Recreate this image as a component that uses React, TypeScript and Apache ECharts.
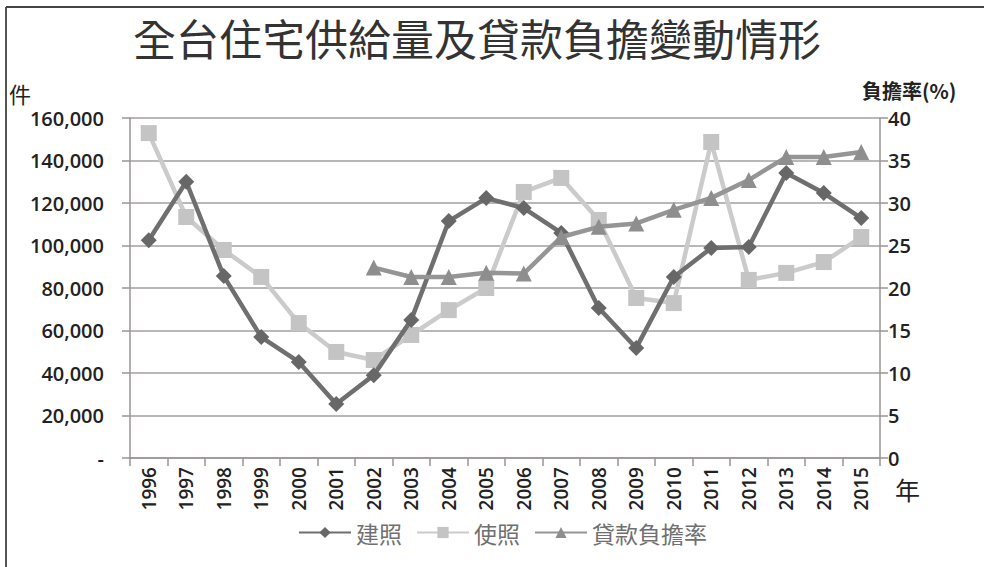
import React, { useEffect, useRef } from "react";
import * as echarts from "echarts";

const years = ["1996","1997","1998","1999","2000","2001","2002","2003","2004","2005","2006","2007","2008","2009","2010","2011","2012","2013","2014","2015"];
const buildPermits = [102500,130000,85600,56900,45200,25400,39000,65000,111500,122300,117600,105900,70600,51800,85200,98800,99300,134100,124700,112900];
const usePermits = [152900,113400,97900,85200,63500,49900,46100,57900,69600,80000,125200,131800,112000,75300,72900,148700,83800,87100,92200,104000];
const loanBurden: (number | null)[] = [null,null,null,null,null,null,22.4,21.3,21.3,21.8,21.7,26.0,27.2,27.6,29.2,30.6,32.7,35.4,35.4,36.0];
const leftTicks = [0,20000,40000,60000,80000,100000,120000,140000,160000];
const rightTicks = [0,5,10,15,20,25,30,35,40];

const FONT = "'Open Sans', 'Noto Sans CJK TC', sans-serif";
const CJK = "'Noto Sans CJK TC', 'Noto Sans', sans-serif";

export default function App() {
  const ref = useRef<HTMLDivElement>(null);
  useEffect(() => {
    document.body.style.margin = "0";
    const chart = echarts.init(ref.current!, null, { renderer: "svg" });
    chart.setOption({
      animation: false,
      backgroundColor: "#ffffff",
      title: {
        text: "全台住宅供給量及貸款負擔變動情形",
        left: 472,
        textAlign: "center",
        top: 10,
        textStyle: { fontFamily: CJK, fontSize: 43, fontWeight: "normal", color: "#333" },
      },
      grid: { left: 130, right: 104, top: 118, bottom: 109, containLabel: false },
      legend: {
        left: 293,
        top: 516,
        itemWidth: 52,
        itemHeight: 14,
        itemGap: 14,
        textStyle: { fontFamily: CJK, fontSize: 23, color: "#707070" },
        data: ["建照", "使照", "貸款負擔率"],
      },
      xAxis: {
        type: "category",
        data: years,
        boundaryGap: true,
        axisLine: { lineStyle: { color: "#9a9595", width: 1.5 } },
        axisTick: { show: true, length: 8, lineStyle: { color: "#9a9595", width: 1.5 } },
        axisLabel: { rotate: 90, interval: 0, fontFamily: FONT, fontSize: 19, fontWeight: 600, color: "#222", margin: 9 },
      },
      yAxis: [
        {
          type: "value",
          min: leftTicks[0],
          max: leftTicks[leftTicks.length - 1],
          interval: 20000,
          axisLine: { show: true, lineStyle: { color: "#9a9595", width: 1.5 } },
          axisTick: { show: true, length: 8, lineStyle: { color: "#9a9595", width: 1.5 } },
          splitLine: { lineStyle: { color: "#a59f9f", width: 1.5 } },
          axisLabel: {
            fontFamily: FONT, fontSize: 20, fontWeight: 600, color: "#222", margin: 26,
            formatter: (v: number) => (v === 0 ? "-" : v.toLocaleString("en-US")),
          },
        },
        {
          type: "value",
          min: rightTicks[0],
          max: rightTicks[rightTicks.length - 1],
          interval: 5,
          position: "right",
          axisLine: { show: true, lineStyle: { color: "#9a9595", width: 1.5 } },
          axisTick: { show: true, length: 8, lineStyle: { color: "#9a9595", width: 1.5 } },
          splitLine: { show: false },
          axisLabel: { fontFamily: FONT, fontSize: 20, fontWeight: 600, color: "#222", margin: 8 },
        },
      ],
      series: [
        {
          name: "建照",
          type: "line",
          yAxisIndex: 0,
          data: buildPermits,
          symbol: "diamond",
          symbolSize: 16,
          lineStyle: { color: "#6f6f6f", width: 4.5 },
          itemStyle: { color: "#676767" },
          z: 4,
        },
        {
          name: "使照",
          type: "line",
          yAxisIndex: 0,
          data: usePermits,
          symbol: "rect",
          symbolSize: 16,
          lineStyle: { color: "#cbcbcb", width: 4.5 },
          itemStyle: { color: "#c4c4c4" },
          z: 3,
        },
        {
          name: "貸款負擔率",
          type: "line",
          yAxisIndex: 1,
          data: loanBurden,
          symbol: "triangle",
          symbolSize: 16,
          lineStyle: { color: "#959595", width: 4.5 },
          itemStyle: { color: "#8e8e8e" },
          z: 5,
        },
      ],
      graphic: [
        { type: "line", shape: { x1: 6, y1: 7, x2: 6, y2: 567 }, style: { stroke: "#555", lineWidth: 2 } },
        { type: "line", shape: { x1: 6, y1: 7, x2: 984, y2: 7 }, style: { stroke: "#444", lineWidth: 2 } },
        { type: "text", left: 9, top: 82, style: { text: "件", font: `22px ${CJK}`, fill: "#222" } },
        { type: "text", left: 862, top: 80, style: { text: "負擔率(%)", font: `bold 20px ${CJK}`, fill: "#222" } },
        { type: "text", left: 895, top: 476, style: { text: "年", font: `25px ${CJK}`, fill: "#222" } },
      ],
    });
    return () => chart.dispose();
  }, []);
  return <div ref={ref} style={{ position: "absolute", left: 0, top: 0, width: 984, height: 567 }} />;
}
